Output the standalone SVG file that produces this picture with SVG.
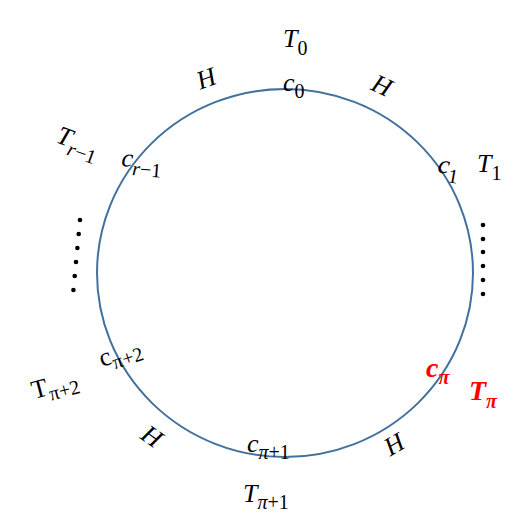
<svg xmlns="http://www.w3.org/2000/svg" width="522" height="525" viewBox="0 0 522 525">
<style>
.l{font-family:"Liberation Serif","DejaVu Serif",serif;font-size:26px;font-style:italic;fill:#000}
.s{font-size:20px;font-style:normal}
.si{font-size:20px;font-style:italic}
.r{fill:#FF0000;font-weight:bold;font-size:28px}
.d{fill:#000}
</style>
<rect width="522" height="525" fill="#fff"/>
<g id="connectors">
<ellipse cx="285" cy="273" rx="188" ry="184" fill="none" stroke="#41719C" stroke-width="2"/>
</g>
<g id="c0"><text class="l" x="283" y="91">c<tspan class="s" dy="7">0</tspan></text></g>
<g id="T0"><text class="l" x="283" y="47">T<tspan class="s" dy="8">0</tspan></text></g>
<g id="H1"><text class="l" x="206" y="87" text-anchor="middle" transform="rotate(-20 206 78)">H</text></g>
<g id="H2"><text class="l" x="382" y="94" text-anchor="middle" transform="rotate(25 382 85)">H</text></g>
<g id="Tr1"><text class="l" x="55" y="142" transform="rotate(20 55 142)">T<tspan class="si" dy="8">r</tspan><tspan class="s">−1</tspan></text></g>
<g id="cr1"><text class="l" x="121" y="166" transform="rotate(5 121 166)">c<tspan class="si" dy="8">r</tspan><tspan class="s">−1</tspan></text></g>
<g id="c1"><text class="l" x="437" y="172" transform="rotate(10 437 172)">c<tspan class="s" dy="8">1</tspan></text></g>
<g id="T1"><text class="l" x="477" y="172">T<tspan class="s" dy="8">1</tspan></text></g>
<g id="dotsR">
<circle class="d" cx="483" cy="225" r="2.3"/><circle class="d" cx="483" cy="239" r="2.3"/><circle class="d" cx="483" cy="252" r="2.3"/><circle class="d" cx="483" cy="266" r="2.3"/><circle class="d" cx="483" cy="280" r="2.3"/><circle class="d" cx="483" cy="294" r="2.3"/>
</g>
<g id="dotsL">
<circle class="d" cx="80" cy="220" r="2.3"/><circle class="d" cx="78.7" cy="234" r="2.3"/><circle class="d" cx="77.4" cy="248" r="2.3"/><circle class="d" cx="76" cy="262" r="2.3"/><circle class="d" cx="74.7" cy="276" r="2.3"/><circle class="d" cx="73.4" cy="290" r="2.3"/>
</g>
<g id="cpi2"><text class="l" x="102" y="367" style="font-style:normal" transform="rotate(-18 102 367)">c<tspan class="s" dy="6">π+2</tspan></text></g>
<g id="Tpi2"><text class="l" x="34" y="399" style="font-style:normal" transform="rotate(-15 34 399)">T<tspan class="s" dy="6">π+2</tspan></text></g>
<g id="H3"><text class="l" x="152" y="445" text-anchor="middle" transform="rotate(35 152 436)">H</text></g>
<g id="H4"><text class="l" x="394" y="453" text-anchor="middle" transform="rotate(-30 394 444)">H</text></g>
<g id="cpi1"><text class="l" x="247" y="452">c<tspan class="si" dy="7">π</tspan><tspan class="s">+1</tspan></text></g>
<g id="Tpi1"><text class="l" x="243" y="502">T<tspan class="si" dy="7">π</tspan><tspan class="s">+1</tspan></text></g>
<g id="cpi"><text class="l r" x="426" y="377">c<tspan class="si" dy="7">π</tspan></text></g>
<g id="Tpi"><text class="l r" x="469" y="400">T<tspan class="si" dy="8">π</tspan></text></g>
</svg>
